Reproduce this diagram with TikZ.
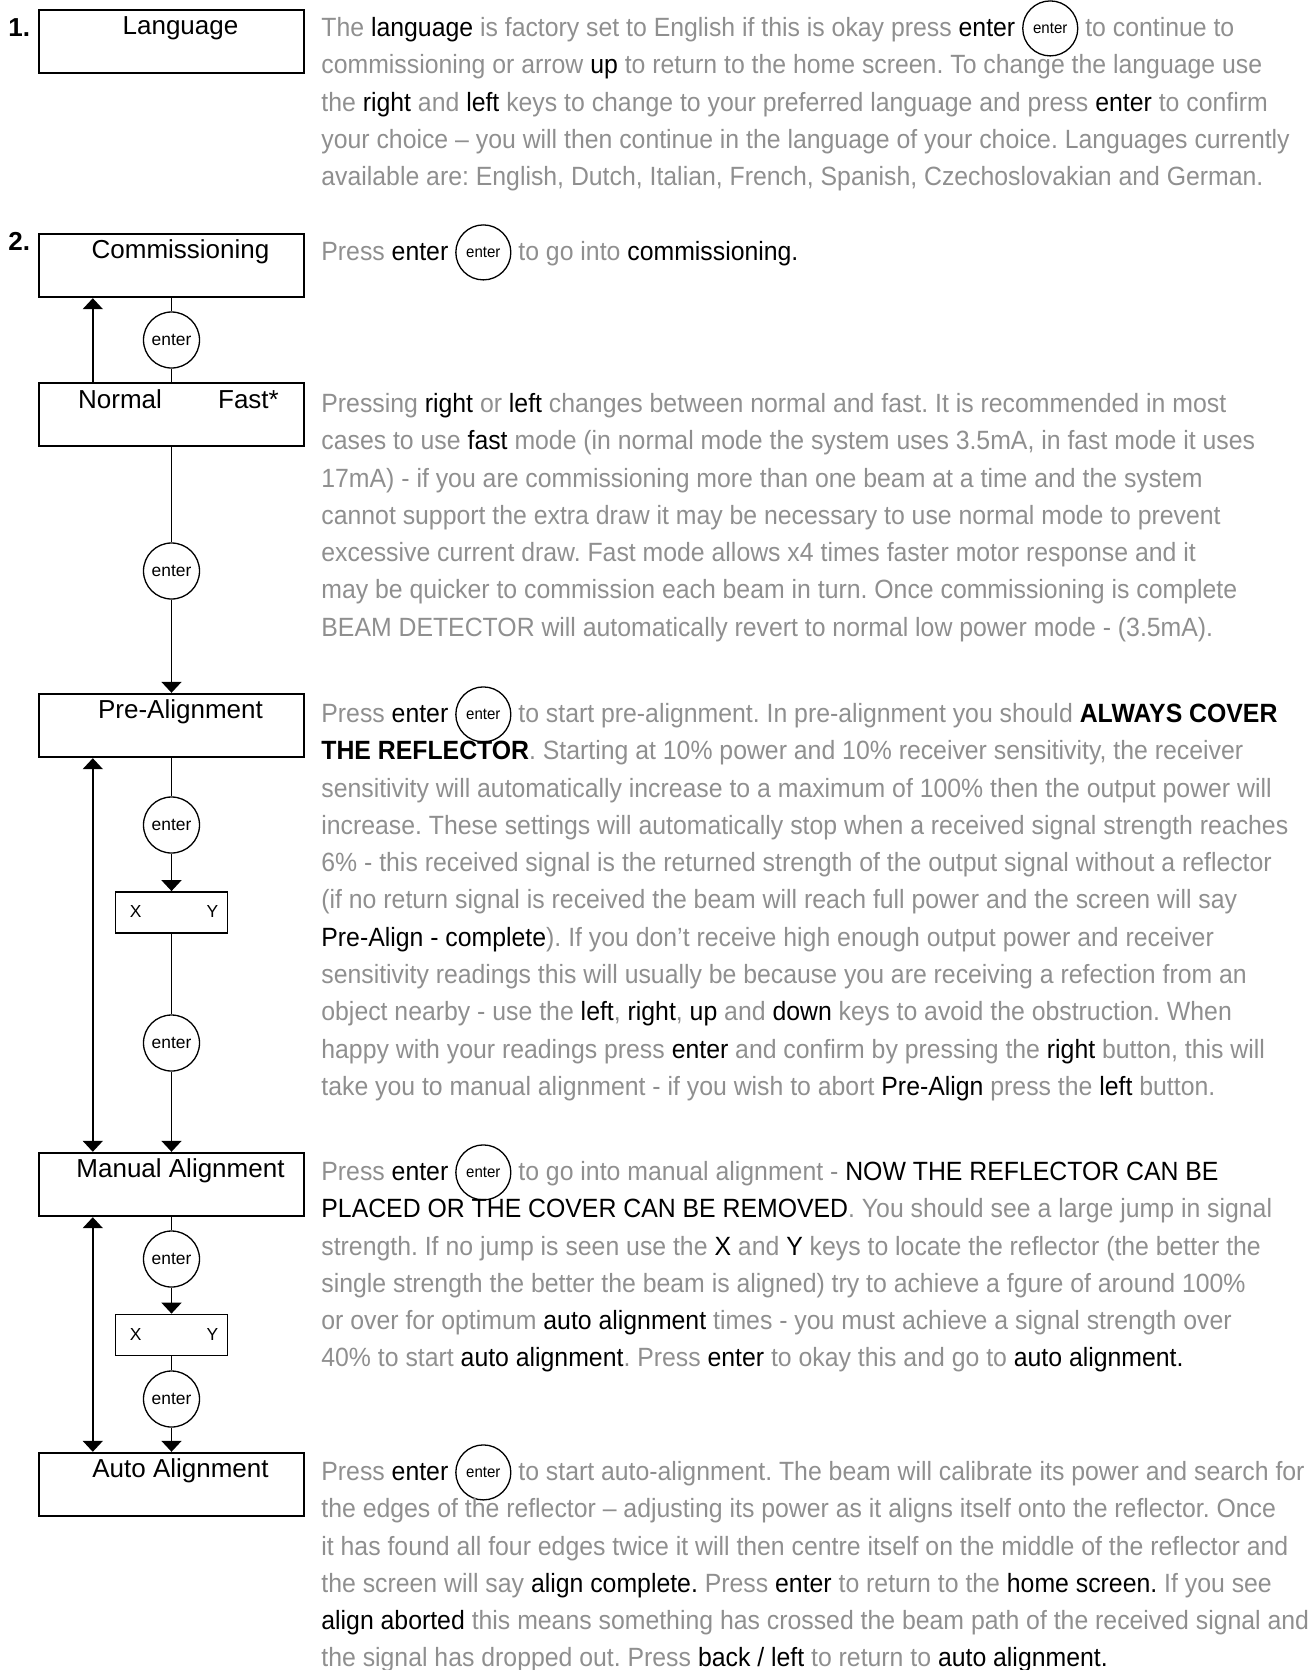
\documentclass[tikz,border=0pt]{standalone}
\usepackage{fontspec}
\setmainfont{Liberation Sans}
\newfontfamily\bodyfont[FakeStretch=0.94]{Liberation Sans}
\usetikzlibrary{calc}
\usetikzlibrary{arrows.meta}
\usetikzlibrary{positioning}

\definecolor{bodygrey}{gray}{0.56}
\newcommand{\kw}[1]{\textcolor{black}{#1}}
\newcommand{\parastrut}{\rule{0pt}{12pt}}
\newcommand{\enterkey}{\smash{\tikz[baseline=-4pt]\node[enterinline]{enter};}}

\tikzset{
 screen/.style={draw, line width=1.2pt, minimum width=132.5pt, minimum height=31.5pt, inner sep=0pt},
 screentxt/.style={anchor=base, inner sep=0pt, font=\fontsize{13}{15}\selectfont},
 enterkey/.style={draw=black, text=black, circle, line width=0.65pt, minimum size=28pt, inner sep=0pt, font=\fontsize{8.7}{10}\selectfont},
 enterinline/.style={enterkey, anchor=center, minimum size=27.5pt, font=\fontsize{8}{9}\selectfont},
 xybox/.style={draw, line width=0.9pt, minimum width=56pt, minimum height=20.5pt, inner sep=0pt},
 xykey/.style={inner sep=0pt, font=\fontsize{8.7}{10}\selectfont},
 conn/.style={line width=0.9pt},
 arr/.style={conn, -{Triangle[length=5.5pt,width=10pt]}},
 dblarr/.style={conn, {Triangle[length=5.5pt,width=10pt]}-{Triangle[length=5.5pt,width=10pt]}},
 para/.style={anchor=north west, align=left, inner sep=0pt, text=bodygrey, font=\bodyfont\fontsize{13.2}{18.65}\selectfont\frenchspacing},
 stepno/.style={anchor=base west, inner sep=0pt, font=\bfseries\fontsize{13}{15}\selectfont},
}

\begin{document}
\begin{tikzpicture}[x=0.5pt, y=-0.5pt]
\useasboundingbox (0,0) rectangle (1314,1670);
% screens
\foreach \nm/\yy/\txt in {lang/41.5/Language, comm/265.5/Commissioning, prealign/725.5/Pre-Alignment, manual/1184.5/Manual Alignment, auto/1484.5/Auto Alignment}{
  \node[screen] (\nm) at (171.5,\yy) {};
  \node[screentxt] (\nm-txt) at ($(\nm.north)+(9,26)$) {\txt};
}
\node[screen] (mode) at (171.5,414.5) {};
\node[screentxt, anchor=base west] (normal) at ($(mode.north west)+(40,27)$) {Normal};
\node[screentxt, anchor=base east] (fast) at ($(mode.north east)+(-26,27)$) {Fast*};
\node[stepno] (no1) at (8,36) {1.};
\node[stepno] (no2) at (8,250) {2.};

% keys
\foreach \nm/\yy in {k1/340, k2/571, k3/825, k4/1043, k5/1259, k6/1399}
  \node[enterkey] (\nm) at (171.5,\yy) {enter};
\foreach \nm/\yy in {xy1/912.5, xy2/1335}{
  \node[xybox] (\nm) at (171.5,\yy) {};
  \node[xykey] (\nm-x) at ($(\nm.west)+(21,-1)$) {X};
  \node[xykey] (\nm-y) at ($(\nm.east)+(-16,-1)$) {Y};
}

% connectors
\draw[conn] (comm) -- (k1);
\draw[conn] (k1) -- (mode);
\draw[arr] ($(mode.north west)+(55,0)$) -- ($(comm.south west)+(55,0)$);
\draw[conn] (mode) -- (k2);
\draw[arr] (k2) -- (prealign);
\draw[conn] (prealign) -- (k3);
\draw[arr] (k3) -- (xy1);
\draw[conn] (xy1) -- (k4);
\draw[arr] (k4) -- (manual);
\draw[dblarr] ($(prealign.south west)+(55,0)$) -- ($(manual.north west)+(55,0)$);
\draw[conn] (manual) -- (k5);
\draw[arr] (k5) -- (xy2);
\draw[conn] (xy2) -- (k6);
\draw[arr] (k6) -- (auto);
\draw[dblarr] ($(manual.south west)+(55,0)$) -- ($(auto.north west)+(55,0)$);

% text column
\node[para] (p1) at (321,12) {\parastrut The \kw{language} is factory set to English if this is okay press \kw{enter} \enterkey{} to continue to\\
commissioning or arrow \kw{up} to return to the home screen. To change the language use\\
the \kw{right} and \kw{left} keys to change to your preferred language and press \kw{enter} to confirm\\
your choice – you will then continue in the language of your choice. Languages currently\\
available are: English, Dutch, Italian, French, Spanish, Czechoslovakian and German.};
\node[para] (p2) at (321,236) {\parastrut Press \kw{enter} \enterkey{} to go into \kw{commissioning.}};
\node[para] (p3) at (321,388) {\parastrut Pressing \kw{right} or \kw{left} changes between normal and fast. It is recommended in most\\
cases to use \kw{fast} mode (in normal mode the system uses 3.5mA, in fast mode it uses\\
17mA) - if you are commissioning more than one beam at a time and the system\\
cannot support the extra draw it may be necessary to use normal mode to prevent\\
excessive current draw. Fast mode allows x4 times faster motor response and it\\
may be quicker to commission each beam in turn. Once commissioning is complete\\
BEAM DETECTOR will automatically revert to normal low power mode - (3.5mA).};
\node[para] (p4) at (321,698) {\parastrut Press \kw{enter} \enterkey{} to start pre-alignment. In pre-alignment you should \kw{\bfseries ALWAYS COVER}\\
\kw{\bfseries THE REFLECTOR}. Starting at 10\% power and 10\% receiver sensitivity, the receiver\\
sensitivity will automatically increase to a maximum of 100\% then the output power will\\
increase. These settings will automatically stop when a received signal strength reaches\\
6\% - this received signal is the returned strength of the output signal without a reflector\\
(if no return signal is received the beam will reach full power and the screen will say\\
\kw{Pre-Align - complete}). If you don’t receive high enough output power and receiver\\
sensitivity readings this will usually be because you are receiving a refection from an\\
object nearby - use the \kw{left}, \kw{right}, \kw{up} and \kw{down} keys to avoid the obstruction. When\\
happy with your readings press \kw{enter} and confirm by pressing the \kw{right} button, this will\\
take you to manual alignment - if you wish to abort \kw{Pre-Align} press the \kw{left} button.};
\node[para] (p5) at (321,1156) {\parastrut Press \kw{enter} \enterkey{} to go into manual alignment - \kw{NOW THE REFLECTOR CAN BE}\\
\kw{PLACED OR THE COVER CAN BE REMOVED}. You should see a large jump in signal\\
strength. If no jump is seen use the \kw{X} and \kw{Y} keys to locate the reflector (the better the\\
single strength the better the beam is aligned) try to achieve a fgure of around 100\%\\
or over for optimum \kw{auto alignment} times - you must achieve a signal strength over\\
40\% to start \kw{auto alignment}. Press \kw{enter} to okay this and go to \kw{auto alignment.}};
\node[para] (p6) at (321,1456) {\parastrut Press \kw{enter} \enterkey{} to start auto-alignment. The beam will calibrate its power and search for\\
the edges of the reflector – adjusting its power as it aligns itself onto the reflector. Once\\
it has found all four edges twice it will then centre itself on the middle of the reflector and\\
the screen will say \kw{align complete.} Press \kw{enter} to return to the \kw{home screen.} If you see\\
\kw{align aborted} this means something has crossed the beam path of the received signal and\\
the signal has dropped out. Press \kw{back / left} to return to \kw{auto alignment.}};
\end{tikzpicture}
\end{document}
